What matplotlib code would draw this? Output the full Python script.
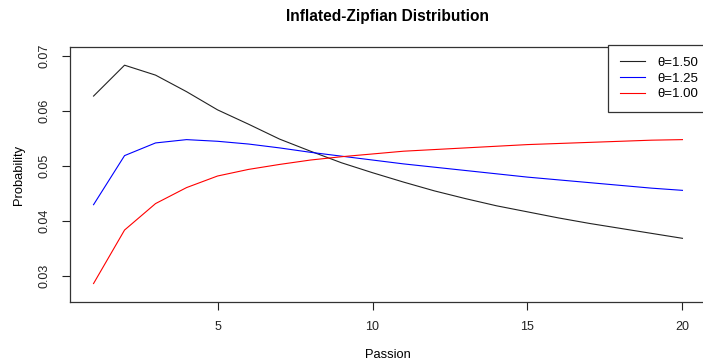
import matplotlib
matplotlib.use("Agg")
import matplotlib.pyplot as plt

plt.rcParams['font.family'] = ['Liberation Sans', 'DejaVu Sans']

passion = list(range(1, 21))
theta_labels = ["θ=1.50", "θ=1.25", "θ=1.00"]
prob_150 = [0.0627, 0.0683, 0.0665, 0.0635, 0.0602, 0.0576, 0.0549, 0.0527, 0.0506, 0.0488,
            0.0471, 0.0455, 0.0441, 0.0428, 0.0417, 0.0406, 0.0396, 0.0387, 0.0378, 0.0369]
prob_125 = [0.0430, 0.0519, 0.0542, 0.0548, 0.0545, 0.0540, 0.0533, 0.0525, 0.0518, 0.0511,
            0.0504, 0.0498, 0.0492, 0.0486, 0.0480, 0.0475, 0.0470, 0.0465, 0.0460, 0.0456]
prob_100 = [0.0287, 0.0384, 0.0432, 0.0461, 0.0482, 0.0494, 0.0503, 0.0511, 0.0517, 0.0522,
            0.0527, 0.0530, 0.0533, 0.0536, 0.0539, 0.0541, 0.0543, 0.0545, 0.0547, 0.0548]
x_ticks = [5, 10, 15, 20]
y_ticks = [0.03, 0.04, 0.05, 0.06, 0.07]

W, H = 703, 363
fig = plt.figure(figsize=(W / 100, H / 100), dpi=100)
ax = fig.add_axes([70 / W, 61 / H, 636 / W, 255 / H])

ax.plot(passion, prob_150, color='#222222', lw=0.8, label=theta_labels[0])
ax.plot(passion, prob_125, color='blue', lw=0.8, label=theta_labels[1])
ax.plot(passion, prob_100, color='red', lw=0.8, label=theta_labels[2])

ax.set_xlim(0.24, 20.76)
ax.set_ylim(0.02535, 0.0716)
ax.set_xticks(x_ticks)
ax.set_xticklabels([str(t) for t in x_ticks])
ax.set_yticks(y_ticks)
ax.set_yticklabels([f"{t:.2f}" for t in y_ticks], rotation=90, va='center')
ax.tick_params(axis='both', length=6, width=0.8, labelsize=9, colors='#222222', pad=8)
for s in ax.spines.values():
    s.set_linewidth(0.9)
    s.set_color('#333333')

ax.set_title("Inflated-Zipfian Distribution", fontsize=11.2, fontweight='bold', pad=19)
ax.set_xlabel("Passion", fontsize=9.3, labelpad=11)
ax.set_ylabel("Probability", fontsize=9.3, labelpad=10)

leg = ax.legend(loc='upper right', bbox_to_anchor=(1.006, 1.008), borderaxespad=0,
                fancybox=False, edgecolor='#333333', framealpha=1, fontsize=9.5,
                handlelength=1.9, handletextpad=0.9, labelspacing=0.25,
                borderpad=0.9)
leg.get_frame().set_linewidth(0.9)

fig.savefig("out.png", dpi=100)
